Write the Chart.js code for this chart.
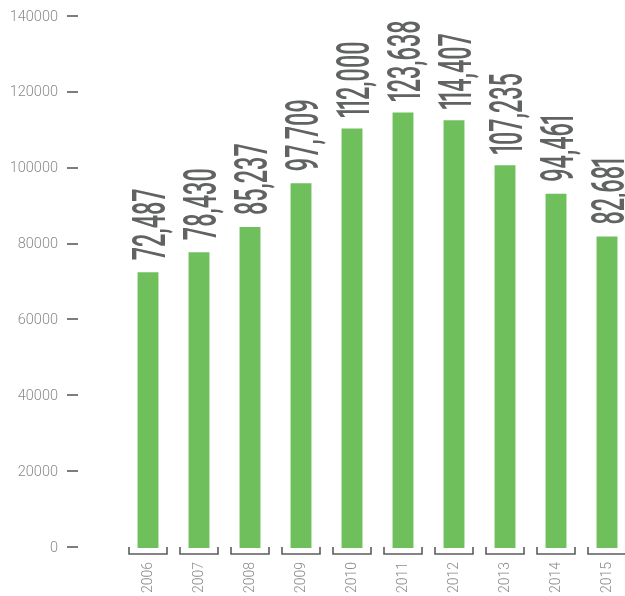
<!DOCTYPE html>
<html>
<head>
<meta charset="utf-8">
<script src="https://cdn.jsdelivr.net/npm/chart.js@4/dist/chart.umd.min.js"></script>
<style>
    html, body { margin: 0; padding: 0; background: #fff; overflow: hidden; }
    #wrap { width: 640px; height: 596px; }
</style>
</head>
<body>
<div id="wrap"><canvas id="barChart" width="640" height="596"></canvas></div>
<script>
// Years on the x axis
const years = ['2006', '2007', '2008', '2009', '2010', '2011', '2012', '2013', '2014', '2015'];
// Bar heights as drawn in the picture
const barValues = [72700, 78000, 84600, 96200, 110600, 114800, 112800, 100900, 93400, 82100];
// Printed labels above each bar
const valueLabels = ['72,487', '78,430', '85,237', '97,709', '112,000', '123,638', '114,407', '107,235', '94,461', '82,681'];
// Y axis ticks
const yTicks = [0, 20000, 40000, 60000, 80000, 100000, 120000, 140000];

const grey = '#616363';

// condensed look: '1' gets a narrower advance like in the original font
function drawCondensed(ctx, text) {
    let x = 0;
    for (const ch of text) {
        const w = ctx.measureText(ch).width;
        const adv = ch === '1' ? w * 0.62 : w;
        ctx.fillText(ch, x + adv / 2, 0);
        x += adv;
    }
}

// Short dashes next to y tick labels + brackets under each bar + value labels
const decorations = {
    id: 'decorations',
    afterDatasetsDraw(chart) {
        const ctx = chart.ctx;
        const yScale = chart.scales.y;
        const xScale = chart.scales.x;
        const bottom = chart.chartArea.bottom;

        ctx.save();
        ctx.strokeStyle = '#5c5c5c';
        ctx.lineWidth = 1.6;
        yTicks.forEach(v => {
            const py = Math.round(yScale.getPixelForValue(v)) - 1;
            ctx.beginPath();
            ctx.moveTo(67, py);
            ctx.lineTo(78, py);
            ctx.stroke();
        });

        years.forEach((y, i) => {
            const cx = xScale.getPixelForValue(i);
            ctx.beginPath();
            ctx.moveTo(cx - 19, bottom - 1);
            ctx.lineTo(cx - 19, bottom + 6);
            ctx.lineTo(cx + 19, bottom + 6);
            ctx.lineTo(cx + 19, bottom - 1);
            ctx.stroke();
        });

        // value labels, rotated and squeezed
        const meta = chart.getDatasetMeta(0);
        ctx.fillStyle = grey;
        ctx.font = '500 46px Roboto';
        ctx.textAlign = 'center';
        ctx.textBaseline = 'alphabetic';
        meta.data.forEach((bar, i) => {
            ctx.save();
            ctx.translate(bar.x + 16.5, bar.y - 12);
            ctx.rotate(-Math.PI / 2);
            ctx.scale(0.51, 1);
            drawCondensed(ctx, valueLabels[i]);
            ctx.restore();
        });
        ctx.restore();
    }
};

new Chart(document.getElementById('barChart'), {
    type: 'bar',
    data: {
        labels: years,
        datasets: [{
            data: barValues,
            backgroundColor: '#6fbf5c',
            borderWidth: 0,
            barPercentage: 0.41,
            categoryPercentage: 1
        }]
    },
    options: {
        responsive: false,
        animation: false,
        devicePixelRatio: 1,
        layout: { padding: { top: 17, right: 7.5, left: 0, bottom: 0 } },
        plugins: {
            legend: { display: false },
            tooltip: { enabled: false }
        },
        scales: {
            x: {
                grid: { display: false, drawTicks: false },
                border: { display: false },
                ticks: {
                    color: '#8a8a8a',
                    font: { family: 'Roboto', size: 14, weight: 300 },
                    minRotation: 90,
                    maxRotation: 90,
                    padding: 14
                },
                afterFit(scale) {
                    scale.height = 48;
                    scale.paddingLeft = 0;
                    scale.paddingRight = 0;
                }
            },
            y: {
                min: 0,
                max: 140000,
                grid: { display: false, drawTicks: false },
                border: { display: false },
                ticks: {
                    stepSize: 20000,
                    color: '#8a8a8a',
                    font: { family: 'Roboto', size: 14.5, weight: 300 },
                    padding: 64.5,
                    callback: v => String(v)
                },
                afterFit(scale) {
                    scale.width = 122.5;
                    scale.paddingTop = 0;
                    scale.paddingBottom = 0;
                }
            }
        }
    },
    plugins: [decorations]
});
</script>
</body>
</html>
